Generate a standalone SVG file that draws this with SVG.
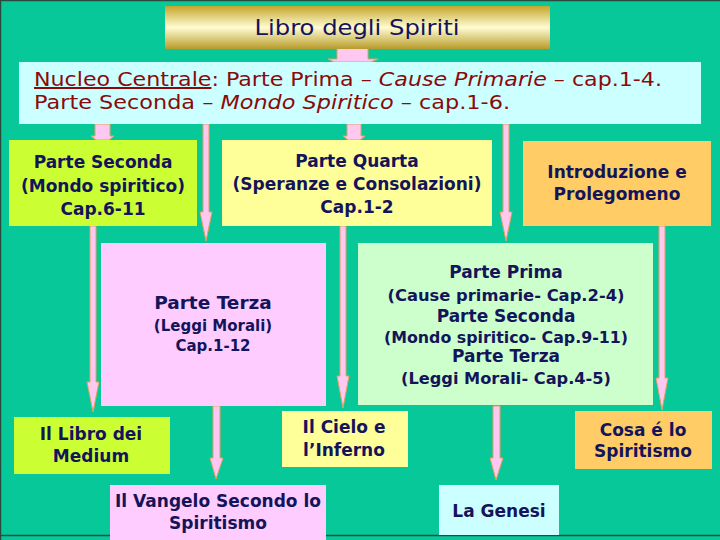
<svg xmlns="http://www.w3.org/2000/svg" width="720" height="540" viewBox="0 0 720 540">
<defs>
<linearGradient id="gold" x1="0" y1="0" x2="0" y2="1">
<stop offset="0" stop-color="#c4a62c"/>
<stop offset="0.5" stop-color="#fffcd2"/>
<stop offset="1" stop-color="#b89c2a"/>
</linearGradient>
<style>
.bg{fill:#07c898}
.t{font-family:"DejaVu Sans","Liberation Sans",sans-serif;font-weight:bold;fill:#14145a;text-anchor:middle}
.big{font-size:17px}
.sm{font-size:15px}
.md{font-size:16px}
.red{font-family:"DejaVu Sans","Liberation Sans",sans-serif;font-size:20px;fill:#8a0a0a}
.arrow{fill:#ffc8f0;stroke:#e4a060;stroke-width:1}
.yg{fill:#ccff33}
.yl{fill:#ffff99}
.or{fill:#ffcc66}
.pk{fill:#ffccff}
.gr{fill:#ccffcc}
.cy{fill:#ccffff}
</style>
</defs>
<rect class="bg" x="0" y="0" width="720" height="540"/>
<path d="M0.5,540 V0.5 H720 M0,535.5 H720" fill="none" stroke="#2a4a40" stroke-width="1.5"/>

<g id="connectors">
<path class="arrow" d="M337,48 H368 V59 H378 L371,62 H334 L328,59 H337 Z"/>
<path class="arrow" d="M95,124 H110 V136 H114 L109,140 H96 L91,136 H95 Z"/>
<path class="arrow" d="M347,124 H361 V136 H365 L360,140 H348 L343,136 H347 Z"/>
<path class="arrow" d="M203,124 H209 V212 H212 L206,241 L200,212 H203 Z"/>
<path class="arrow" d="M503,124 H509 V212 H512 L506,241 L500,212 H503 Z"/>
<path class="arrow" d="M90,226 H96 V382 H99 L93,412 L87,382 H90 Z"/>
<path class="arrow" d="M340,226 H346 V376 H349 L343,408 L337,376 H340 Z"/>
<path class="arrow" d="M659,226 H665 V378 H668 L662,410 L656,378 H659 Z"/>
<path class="arrow" d="M213,406 H220 V458 H223 L216,479 L210,458 H213 Z"/>
<path class="arrow" d="M493,406 H500 V458 H503 L496,480 L490,458 H493 Z"/>
</g>

<g id="title">
<rect x="165" y="6" width="385" height="43" fill="url(#gold)"/>
<text class="t" x="357" y="35" style="font-size:21px;font-weight:normal" fill="#0a0a5a" textLength="205" lengthAdjust="spacingAndGlyphs">Libro degli Spiriti</text>
</g>

<g id="nucleo">
<rect class="cy" x="19" y="62" width="682" height="62"/>
<text class="red" x="34" y="86" textLength="628" lengthAdjust="spacingAndGlyphs"><tspan text-decoration="underline">Nucleo Centrale</tspan>: Parte Prima – <tspan font-style="italic">Cause Primarie</tspan> – cap.1-4.</text>
<text class="red" x="34" y="109" textLength="476" lengthAdjust="spacingAndGlyphs">Parte Seconda – <tspan font-style="italic">Mondo Spiritico</tspan> – cap.1-6.</text>
</g>

<g id="parte-seconda">
<rect class="yg" x="9" y="140" width="188" height="86"/>
<text class="t big" x="103" y="168">Parte Seconda</text>
<text class="t big" x="103" y="192">(Mondo spiritico)</text>
<text class="t big" x="103" y="215">Cap.6-11</text>
</g>

<g id="parte-quarta">
<rect class="yl" x="222" y="140" width="270" height="86"/>
<text class="t big" x="357" y="167">Parte Quarta</text>
<text class="t big" x="357" y="190">(Speranze e Consolazioni)</text>
<text class="t big" x="357" y="213">Cap.1-2</text>
</g>

<g id="introduzione">
<rect class="or" x="523" y="141" width="188" height="85"/>
<text class="t big" x="617" y="178">Introduzione e</text>
<text class="t big" x="617" y="200">Prolegomeno</text>
</g>

<g id="parte-terza">
<rect class="pk" x="101" y="243" width="225" height="163"/>
<text class="t" x="213" y="309" style="font-size:18.5px">Parte Terza</text>
<text class="t sm" x="213" y="331">(Leggi Morali)</text>
<text class="t sm" x="213" y="351">Cap.1-12</text>
</g>

<g id="parte-prima">
<rect class="gr" x="358" y="243" width="295" height="162"/>
<text class="t big" x="506" y="278">Parte Prima</text>
<text class="t md" x="506" y="301" textLength="237" lengthAdjust="spacingAndGlyphs">(Cause primarie- Cap.2-4)</text>
<text class="t big" x="506" y="322">Parte Seconda</text>
<text class="t md" x="506" y="343" textLength="244" lengthAdjust="spacingAndGlyphs">(Mondo spiritico- Cap.9-11)</text>
<text class="t big" x="506" y="362">Parte Terza</text>
<text class="t md" x="506" y="384" textLength="210" lengthAdjust="spacingAndGlyphs">(Leggi Morali- Cap.4-5)</text>
</g>

<g id="libro-medium">
<rect class="yg" x="14" y="417" width="156" height="57"/>
<text class="t big" x="91" y="440">Il Libro dei</text>
<text class="t big" x="91" y="462">Medium</text>
</g>

<g id="cielo-inferno">
<rect class="yl" x="282" y="411" width="126" height="56"/>
<text class="t big" x="344" y="433">Il Cielo e</text>
<text class="t big" x="344" y="456">l’Inferno</text>
</g>

<g id="cosa-spiritismo">
<rect class="or" x="575" y="411" width="137" height="58"/>
<text class="t big" x="643" y="436">Cosa é lo</text>
<text class="t big" x="643" y="457">Spiritismo</text>
</g>

<g id="vangelo">
<rect class="pk" x="110" y="485" width="216" height="55"/>
<text class="t big" x="218" y="507">Il Vangelo Secondo lo</text>
<text class="t big" x="218" y="529">Spiritismo</text>
</g>

<g id="genesi">
<rect class="cy" x="439" y="485" width="120" height="50"/>
<text class="t big" x="499" y="517">La Genesi</text>
</g>
</svg>
